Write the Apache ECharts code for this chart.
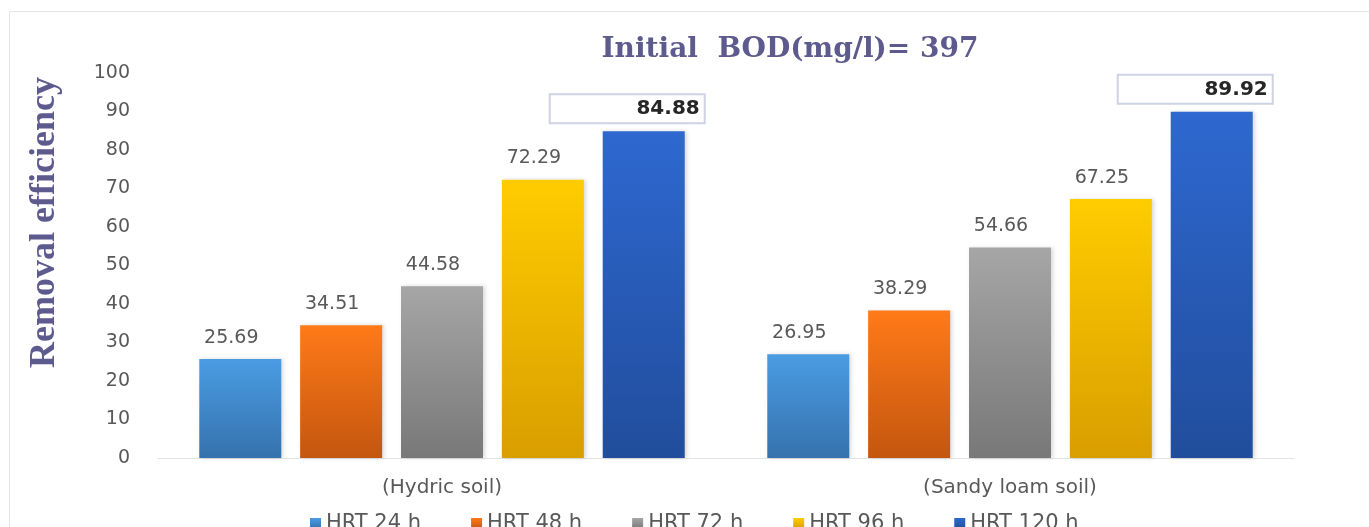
<!DOCTYPE html>
<html>
<head>
<meta charset="utf-8">
<script src="https://cdn.jsdelivr.net/npm/echarts@6/dist/echarts.min.js"></script>
<style>
html, body { margin: 0; padding: 0; background: #fff; }
#chart { width: 1369px; height: 527px; }
</style>
</head>
<body>
<div id="chart"></div>
<script>
const categories = ['(Hydric soil)', '(Sandy loam soil)']
const seriesNames = ['HRT 24 h', 'HRT 48 h', 'HRT 72 h', 'HRT 96 h', 'HRT 120 h']
const hrt24 = [25.69, 26.95]
const hrt48 = [34.51, 38.29]
const hrt72 = [44.58, 54.66]
const hrt96 = [72.29, 67.25]
const hrt120 = [84.88, 89.92]
const yTicks = { min: 0, max: 100, interval: 10 }

// top / bottom colours of each bar gradient
const colors = [
    ['#4a9ce3', '#3572ad'],
    ['#ff7a18', '#c4560f'],
    ['#a6a6a6', '#787878'],
    ['#ffcc00', '#d99e00'],
    ['#2e68d0', '#214d9c']
]

function grad(c) {
    return new echarts.graphic.LinearGradient(0, 0, 0, 1, [
        { offset: 0, color: c[0] },
        { offset: 1, color: c[1] }
    ])
}

const plainLabel = {
    show: true,
    position: 'top',
    distance: 12,
    offset: [-9, 0],
    color: '#595959',
    fontSize: 19,
    fontFamily: 'DejaVu Sans'
}

const boxLabel = {
    show: true,
    position: 'top',
    distance: 9,
    offset: [60, 0],
    color: '#262626',
    fontSize: 20,
    fontWeight: 'bold',
    fontFamily: 'DejaVu Sans',
    backgroundColor: '#fff',
    borderColor: '#cdd3e3',
    borderWidth: 2,
    width: 145,
    align: 'right',
    padding: [4, 4, 3, 4]
}

const data = [hrt24, hrt48, hrt72, hrt96, hrt120]

const dom = echarts.init(document.getElementById('chart'))
const option = {
    animation: false,
    backgroundColor: '#fff',
    color: colors.map(c => c[1]),
    title: {
        text: 'Initial  BOD(mg/l)= 397',
        left: 785,
        textAlign: 'center',
        top: 31,
        textStyle: {
            color: '#5d5a8e',
            fontSize: 28,
            fontWeight: 'bold',
            fontFamily: 'DejaVu Serif'
        }
    },
    graphic: [{
        type: 'rect',
        shape: { x: 9.5, y: 11.5, width: 1400, height: 600 },
        style: { fill: 'none', stroke: '#e3e3e3', lineWidth: 1 },
        silent: true
    }],
    legend: {
        left: 305,
        top: 508,
        itemWidth: 11,
        itemHeight: 11,
        itemGap: 50,
        icon: 'rect',
        textStyle: { color: '#595959', fontSize: 21, fontFamily: 'DejaVu Sans' },
        data: seriesNames
    },
    grid: { left: 158, right: 75, top: 73, bottom: 69 },
    xAxis: {
        type: 'category',
        data: categories,
        axisTick: { show: false },
        axisLine: { lineStyle: { color: '#e3e3e3' } },
        axisLabel: { color: '#595959', fontSize: 20, margin: 20, fontFamily: 'DejaVu Sans' }
    },
    yAxis: {
        type: 'value',
        min: yTicks.min,
        max: yTicks.max,
        interval: yTicks.interval,
        name: 'Removal efficiency',
        nameLocation: 'middle',
        nameGap: 95,
        nameTextStyle: {
            color: '#5d5a8e',
            fontSize: 36,
            fontWeight: 'bold',
            fontFamily: 'Liberation Serif',
            padding: [0, 0, 0, 86]
        },
        splitLine: { show: false },
        axisLine: { show: false },
        axisLabel: { color: '#595959', fontSize: 19, margin: 28, fontFamily: 'DejaVu Sans' }
    },
    series: seriesNames.map((name, i) => ({
        name: name,
        type: 'bar',
        data: data[i],
        barWidth: 82,
        barGap: '23%',
        itemStyle: {
            color: grad(colors[i]),
            shadowColor: 'rgba(0,0,0,0.15)',
            shadowBlur: 4,
            shadowOffsetX: 2
        },
        label: i === 4 ? boxLabel : plainLabel
    }))
}
dom.setOption(option)
</script>
</body>
</html>
